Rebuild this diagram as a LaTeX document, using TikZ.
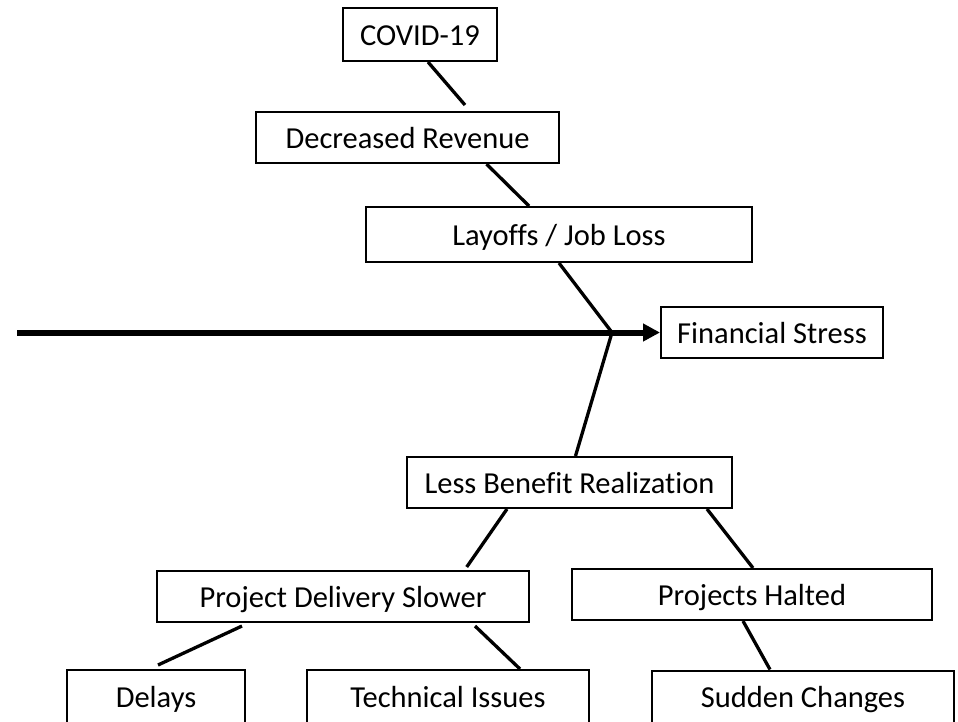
\documentclass[tikz,border=0pt]{standalone}
\usepackage{fontspec}
\setmainfont{Carlito}[Ligatures=NoCommon]
\usetikzlibrary{arrows.meta,positioning,calc}
\tikzset{>=latex}
\tikzset{
  cause/.style={draw, line width=2pt, inner sep=0pt, minimum height=51pt,
    text height=25pt, text depth=4pt,
    font=\fontsize{30.5pt}{36pt}\selectfont},
  bone/.style={line width=3.3pt},
  spine/.style={line width=6pt, -{Triangle[length=17pt,width=17pt]}},
}

\begin{document}
\begin{tikzpicture}[x=1pt,y=-1pt]
    \useasboundingbox (0,0) rectangle (958,721);
    \node [cause, minimum width=154pt, minimum height=53pt] (covid) at (420,34.5) {COVID-19};
    \node [cause, minimum width=303pt] (drev) at (407.5,137.5) {Decreased Revenue};
    \node [cause, minimum width=386pt, minimum height=55pt] (layoff) at (559,234.5) {Layoffs / Job Loss};
    \node [cause, minimum width=222pt] (fs) at (772,332.5) {Financial Stress};
    \node [cause, minimum width=325pt] (lbr) at (569.5,482.5) {Less Benefit Realization};
    \node [cause, minimum width=372pt] (pds) at (343,596.5) {Project Delivery Slower};
    \node [cause, minimum width=360pt] (halt) at (752,594.5) {Projects Halted};
    \node [cause, minimum width=178pt, minimum height=53pt] (delay) at (156,696.5) {Delays};
    \node [cause, minimum width=282pt, minimum height=53pt] (tech) at (448,696.5) {Technical Issues};
    \node [cause, minimum width=302pt, minimum height=53pt] (sudden) at (803,697) {Sudden Changes};
    \coordinate (tail) at (17,332.5);
    \coordinate (jn) at (612,332.5);
    \draw [spine] (tail) -- (fs.west);
    \draw [bone] ([xshift=8pt]covid.south) -- ([xshift=57.5pt,yshift=6pt]drev.north);
    \draw [bone] ([xshift=79pt]drev.south) -- ([xshift=-30pt]layoff.north);
    \draw [bone] (layoff.south) -- (jn);
    \draw [bone] ([xshift=6pt]lbr.north) -- (jn);
    \draw [bone] ([xshift=-62.5pt]lbr.south) -- ([xshift=123.7pt,yshift=3pt]pds.north);
    \draw [bone] ([xshift=137.5pt]lbr.south) -- ([xshift=1pt]halt.north);
    \draw [bone] ([xshift=-101pt,yshift=-3pt]pds.south) -- ([xshift=2pt,yshift=4pt]delay.north);
    \draw [bone] ([xshift=132pt,yshift=-3pt]pds.south) -- ([xshift=72pt]tech.north);
    \draw [bone] ([xshift=-9pt]halt.south) -- ([xshift=-33pt]sudden.north);
\end{tikzpicture}
\end{document}
